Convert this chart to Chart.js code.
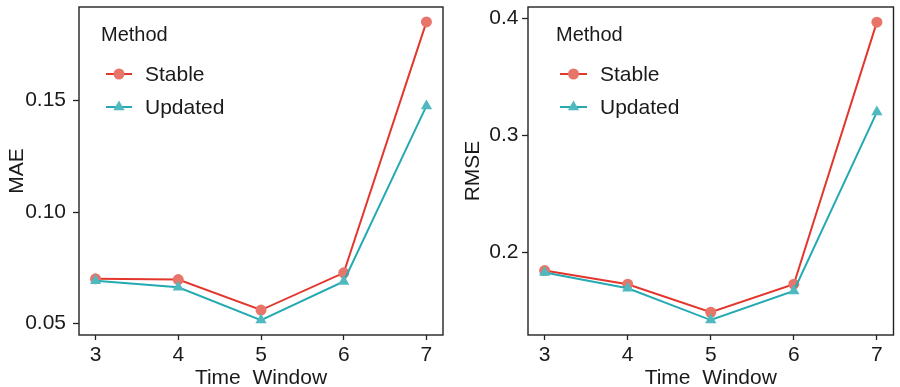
<!DOCTYPE html>
<html>
<head>
<meta charset="utf-8">
<script src="https://cdn.jsdelivr.net/npm/chart.js@4.4.0/dist/chart.umd.min.js"></script>
<style>
  html, body { margin: 0; padding: 0; background: #fff; }
  .panel { position: absolute; top: 0; width: 450px; height: 387px; }
  #maePanel { left: 0; }
  #rmsePanel { left: 450px; }
</style>
</head>
<body>
<div class="panel" id="maePanel"><canvas id="maeChart" width="450" height="387"></canvas></div>
<div class="panel" id="rmsePanel"><canvas id="rmseChart" width="450" height="387"></canvas></div>

<script>
// === data ===
const TIME_WINDOWS = [3, 4, 5, 6, 7];
const METHODS = ["Stable", "Updated"];

const MAE_STABLE = [0.0700, 0.0697, 0.0560, 0.0727, 0.1853];
const MAE_UPDATED = [0.0692, 0.0662, 0.0515, 0.0688, 0.1476];
const RMSE_STABLE = [0.1842, 0.1725, 0.1485, 0.1725, 0.3970];
const RMSE_UPDATED = [0.1825, 0.1690, 0.1418, 0.1668, 0.3200];

const MAE_TICKS = [0.05, 0.10, 0.15];
const RMSE_TICKS = [0.2, 0.3, 0.4];

// colours (ggplot default hues)
const RED_LINE = "#e3372e";
const RED_POINT = "#e8756a";
const TEAL_LINE = "#25a9b3";
const TEAL_POINT = "#50b9c0";
const INK = "#1a1a1a";

Chart.defaults.font.family = '"Liberation Sans", Arial, Helvetica, sans-serif';
Chart.defaults.color = INK;

function toPoints(values) {
  return TIME_WINDOWS.map((t, i) => ({ x: t, y: values[i] }));
}

// 畫圖框 (panel border)
const framePlugin = {
  id: "frame",
  afterDatasetsDraw(chart) {
    const { ctx, chartArea: a } = chart;
    ctx.save();
    ctx.strokeStyle = "#222";
    ctx.lineWidth = 1.4;
    ctx.strokeRect(a.left, a.top, a.right - a.left, a.bottom - a.top);
    ctx.restore();
  }
};

function drawMarker(ctx, style, x, y, r, color) {
  ctx.fillStyle = color;
  ctx.beginPath();
  if (style === "triangle") {
    let rad = 0;
    ctx.moveTo(x + Math.sin(rad) * r, y - Math.cos(rad) * r);
    rad += Math.PI * 2 / 3;
    ctx.lineTo(x + Math.sin(rad) * r, y - Math.cos(rad) * r);
    rad += Math.PI * 2 / 3;
    ctx.lineTo(x + Math.sin(rad) * r, y - Math.cos(rad) * r);
    ctx.closePath();
  } else {
    ctx.arc(x, y, r, 0, Math.PI * 2);
  }
  ctx.fill();
}

// ggplot 風格圖例 (inside the panel, top-left)
const methodLegendPlugin = {
  id: "methodLegend",
  afterDraw(chart, args, opts) {
    const { ctx, chartArea: a } = chart;
    ctx.save();
    ctx.textBaseline = "middle";
    ctx.textAlign = "left";
    ctx.fillStyle = INK;
    ctx.font = '20px "Liberation Sans", Arial, sans-serif';
    ctx.fillText("Method", a.left + opts.titleX, opts.titleY);

    const styles = [
      { line: RED_LINE, point: RED_POINT, shape: "circle", r: 5.5 },
      { line: TEAL_LINE, point: TEAL_POINT, shape: "triangle", r: 6.5 }
    ];
    METHODS.forEach((m, i) => {
      const y = opts.rowY[i];
      const s = styles[i];
      ctx.strokeStyle = s.line;
      ctx.lineWidth = 2;
      ctx.beginPath();
      ctx.moveTo(a.left + opts.lineX0, y);
      ctx.lineTo(a.left + opts.lineX1, y);
      ctx.stroke();
      drawMarker(ctx, s.shape, a.left + (opts.lineX0 + opts.lineX1) / 2, y, s.r, s.point);
      ctx.fillStyle = INK;
      ctx.font = '21px "Liberation Sans", Arial, sans-serif';
      ctx.fillText(m, a.left + opts.textX, y + 1);
    });
    ctx.restore();
  }
};

function buildChart(canvasId, cfg) {
  const ctx = document.getElementById(canvasId).getContext("2d");
  return new Chart(ctx, {
    type: "line",
    data: {
      datasets: [
        {
          label: METHODS[1],
          data: toPoints(cfg.updated),
          borderColor: TEAL_LINE,
          borderWidth: 2,
          pointStyle: "triangle",
          pointRadius: 6.5,
          pointBorderWidth: 0,
          pointBackgroundColor: TEAL_POINT,
          tension: 0
        },
        {
          label: METHODS[0],
          data: toPoints(cfg.stable),
          borderColor: RED_LINE,
          borderWidth: 2,
          pointStyle: "circle",
          pointRadius: 5.5,
          pointBorderWidth: 0,
          pointBackgroundColor: RED_POINT,
          tension: 0
        }
      ]
    },
    options: {
      responsive: false,
      animation: false,
      devicePixelRatio: 1,
      layout: { padding: { top: 7, right: cfg.padRight, bottom: 0, left: 0 } },
      plugins: {
        legend: { display: false },
        tooltip: { enabled: false },
        methodLegend: cfg.legend
      },
      scales: {
        x: {
          type: "linear",
          min: 2.8,
          max: 7.2,
          afterBuildTicks: (s) => { s.ticks = TIME_WINDOWS.map((v) => ({ value: v })); },
          afterFit: (s) => { s.height = 52; s.paddingLeft = 0; s.paddingRight = 0; },
          ticks: { font: { size: 21 }, color: INK, padding: 3, callback: (v) => String(v) },
          grid: { display: true, drawOnChartArea: false, drawTicks: true, tickLength: 5, tickColor: "#222", tickWidth: 1.3 },
          border: { display: false },
          title: {
            display: true,
            text: "Time  Window",
            font: { size: 21, lineHeight: 1 },
            color: INK,
            padding: { top: 0, bottom: -1.5 }
          }
        },
        y: {
          type: "linear",
          min: cfg.yMin,
          max: cfg.yMax,
          afterBuildTicks: (s) => { s.ticks = cfg.ticks.map((v) => ({ value: v })); },
          afterFit: (s) => { s.width = cfg.axisWidth; s.paddingTop = 0; s.paddingBottom = 0; },
          ticks: { font: { size: 21 }, color: INK, padding: cfg.tickPad, callback: (v) => v.toFixed(cfg.decimals) },
          grid: { display: true, drawOnChartArea: false, drawTicks: true, tickLength: 6, tickColor: "#222", tickWidth: 1.3 },
          border: { display: false },
          title: {
            display: true,
            text: cfg.title,
            font: { size: 21, lineHeight: 1 },
            color: INK,
            padding: { top: cfg.titlePad, bottom: 0 }
          }
        }
      }
    },
    plugins: [framePlugin, methodLegendPlugin]
  });
}

buildChart("maeChart", {
  stable: MAE_STABLE,
  updated: MAE_UPDATED,
  ticks: MAE_TICKS,
  decimals: 2,
  yMin: 0.0448,
  yMax: 0.192,
  title: "MAE",
  titlePad: 6.5,
  axisWidth: 79,
  tickPad: 7,
  padRight: 7,
  legend: { titleX: 22, titleY: 35, lineX0: 27, lineX1: 53, textX: 66, rowY: [74, 107] }
});

buildChart("rmseChart", {
  stable: RMSE_STABLE,
  updated: RMSE_UPDATED,
  ticks: RMSE_TICKS,
  decimals: 1,
  yMin: 0.129,
  yMax: 0.410,
  title: "RMSE",
  titlePad: 13,
  axisWidth: 78,
  tickPad: 3.5,
  padRight: 1,
  legend: { titleX: 28, titleY: 35, lineX0: 32, lineX1: 59, textX: 72, rowY: [74, 107] }
});
</script>
</body>
</html>
